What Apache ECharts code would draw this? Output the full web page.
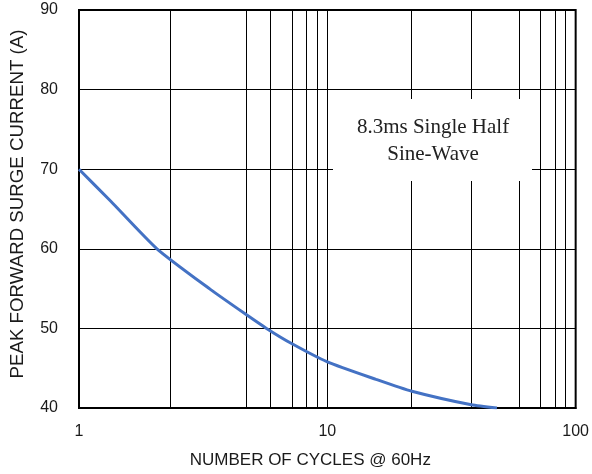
<!DOCTYPE html>
<html>
<head>
<meta charset="utf-8">
<script src="https://cdn.jsdelivr.net/npm/echarts@6/dist/echarts.min.js"></script>
<style>
  html, body { margin: 0; padding: 0; background: #fff; }
  #chart { width: 592px; height: 474px; }
</style>
</head>
<body>
<div id="chart"></div>
<script>
// surge curve
const cycles = [1, 1.34, 2.06, 3.38, 4.68, 5.69, 7.18, 10, 15.7, 21.9, 38, 48.2];
const current = [70, 66, 60, 54.9, 51.8, 50, 48.1, 45.8, 43.6, 42.1, 40.4, 40.0];

// extra vertical grid lines (they don't sit on the usual 2..9 spots)
const gridCycles = [2.33, 4.7, 5.9, 7.2, 8.25, 9.1, 21.8, 37.9, 59.3, 72.1, 83, 90.8];

const xMin = 1, xMax = 100;
const yMin = 40, yMax = 90, yStep = 10;

const noteLines = ['8.3ms Single Half', 'Sine-Wave'];

const chart = echarts.init(document.getElementById('chart'), null, {renderer: 'canvas'});

const labelFont = {
    color: '#1a1a1a',
    fontFamily: '"Liberation Sans", Arial, sans-serif',
    fontSize: 16
};

chart.setOption({
    animation: false,
    backgroundColor: '#fff',
    grid: {
        left: 76, right: 15, top: 10, bottom: 66,
        show: true,
        borderColor: '#000',
        borderWidth: 2
    },
    xAxis: {
        type: 'log',
        logBase: 10,
        min: xMin,
        max: xMax,
        name: 'NUMBER OF CYCLES @ 60Hz',
        nameLocation: 'middle',
        nameGap: 44,
        nameTextStyle: Object.assign({}, labelFont, {fontSize: 17, padding: [0, 34, 0, 0]}),
        axisLine: {lineStyle: {color: '#000', width: 2}},
        axisTick: {show: false},
        axisLabel: Object.assign({}, labelFont, {margin: 16}),
        splitLine: {show: true, lineStyle: {color: '#000', width: 1}},
        minorTick: {show: false},
        minorSplitLine: {show: false}
    },
    yAxis: {
        type: 'value',
        min: yMin,
        max: yMax,
        interval: yStep,
        name: 'PEAK FORWARD SURGE CURRENT (A)',
        nameLocation: 'middle',
        nameRotate: 90,
        nameGap: 52,
        nameTextStyle: Object.assign({}, labelFont, {fontSize: 18.7, padding: [0, 0, 0, 10]}),
        axisLine: {show: true, lineStyle: {color: '#000', width: 2}},
        axisTick: {show: false},
        axisLabel: Object.assign({}, labelFont, {margin: 21}),
        splitLine: {show: true, lineStyle: {color: '#000', width: 1}}
    },
    series: [{
        type: 'line',
        data: cycles.map((c, i) => [c, current[i]]),
        smooth: 0.2,
        showSymbol: false,
        lineStyle: {color: '#4472C4', width: 3},
        z: 5,
        markLine: {
            silent: true,
            symbol: ['none', 'none'],
            label: {show: false},
            lineStyle: {color: '#000', width: 1, type: 'solid'},
            data: gridCycles.map(v => ({xAxis: v}))
        }
    }],
    graphic: [{
        type: 'rect',
        z: 100,
        shape: {x: 333, y: 99, width: 199, height: 82},
        style: {fill: '#fff'}
    }, {
        type: 'text',
        z: 101,
        style: {
            x: 433,
            y: 141,
            text: noteLines.join('\n'),
            font: '21px "Liberation Serif", "Times New Roman", serif',
            fill: '#222',
            align: 'center',
            verticalAlign: 'middle',
            lineHeight: 27
        }
    }]
});
</script>
</body>
</html>
